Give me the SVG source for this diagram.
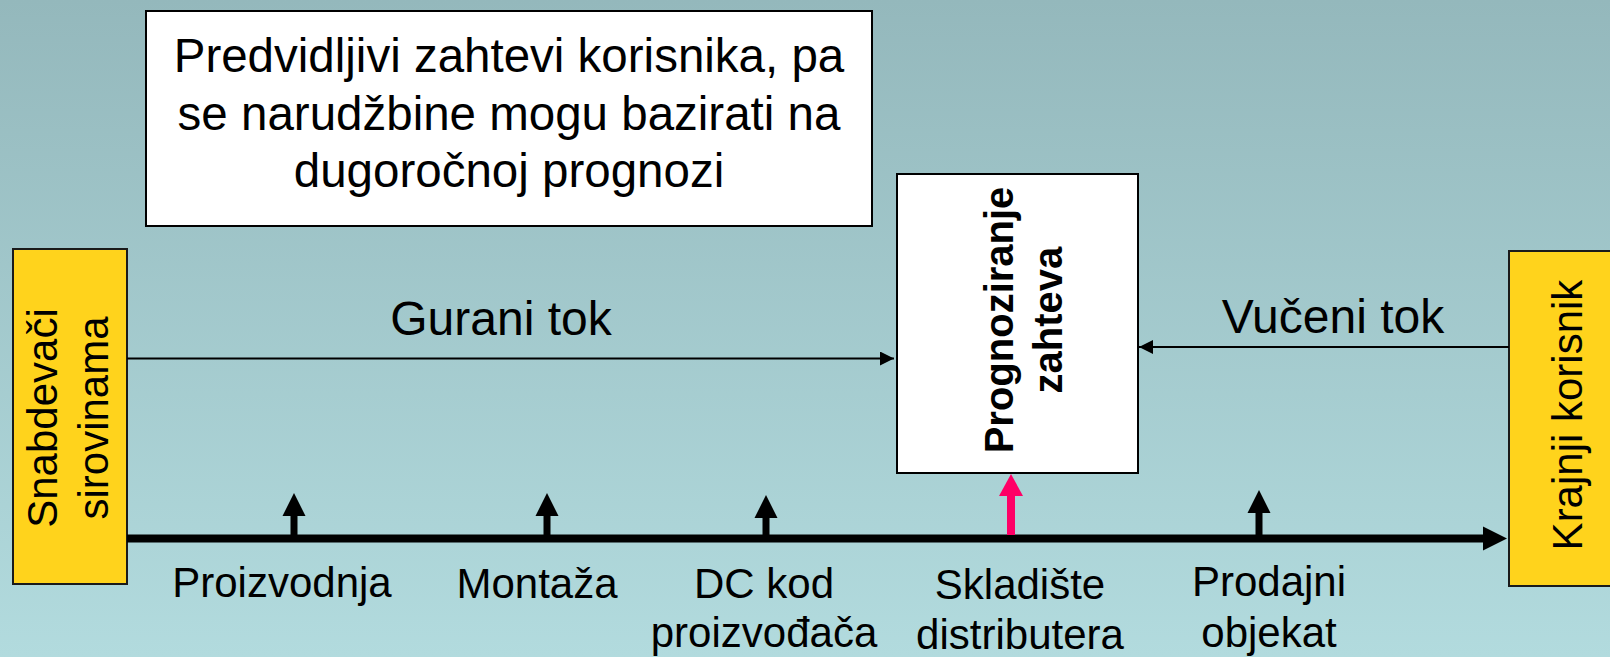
<svg xmlns="http://www.w3.org/2000/svg" width="1610" height="657" viewBox="0 0 1610 657">
  <defs>
    <linearGradient id="bg" x1="0" y1="0" x2="0" y2="1">
      <stop offset="0" stop-color="#94B8BC"/>
      <stop offset="1" stop-color="#B2DBDE"/>
    </linearGradient>
    <marker id="thin" viewBox="0 0 10 10" refX="10" refY="5" markerWidth="15" markerHeight="14" markerUnits="userSpaceOnUse" orient="auto">
      <path d="M0,0 L10,5 L0,10 Z" fill="#000"/>
    </marker>
  </defs>
  <style>
    text { font-family: "Liberation Sans", Arial, sans-serif; fill: #000; }
    .box { fill: #FFFFFF; stroke: #000; stroke-width: 2; }
    .ybox { fill: #FFD31C; stroke: #1a1a1a; stroke-width: 2; }
    .lbl { font-size: 42px; text-anchor: middle; }
    .flow { font-size: 48px; text-anchor: middle; }
    .note { font-size: 47.5px; text-anchor: middle; }
    .bold { font-size: 40px; font-weight: bold; text-anchor: middle; }
    .thin { stroke: #000; stroke-width: 2; fill: none; }
  </style>
  <rect x="0" y="0" width="1610" height="657" fill="url(#bg)"/>

  <g id="note">
    <rect class="box" x="146" y="11" width="726" height="215"/>
    <text class="note" x="509" y="72">Predvidljivi zahtevi korisnika, pa</text>
    <text class="note" x="509" y="130">se narudžbine mogu bazirati na</text>
    <text class="note" x="509" y="187">dugoročnoj prognozi</text>
  </g>

  <g id="snabdevaci">
    <rect class="ybox" x="13" y="249" width="114" height="335"/>
    <text class="lbl" transform="translate(57,418) rotate(-90)">Snabdevači</text>
    <text class="lbl" transform="translate(108,418) rotate(-90)">sirovinama</text>
  </g>

  <g id="krajnji">
    <rect class="ybox" x="1509" y="251" width="110" height="335"/>
    <text class="lbl" transform="translate(1582,415) rotate(-90)">Krajnji korisnik</text>
  </g>

  <g id="prognoziranje">
    <rect class="box" x="897" y="174" width="241" height="299"/>
    <text class="bold" transform="translate(1013,320) rotate(-90)">Prognoziranje</text>
    <text class="bold" transform="translate(1062,320) rotate(-90)">zahteva</text>
  </g>

  <g id="connectors">
    <line class="thin" x1="127" y1="358.5" x2="894" y2="358.5" marker-end="url(#thin)"/>
    <line class="thin" x1="1509" y1="347" x2="1139" y2="347" marker-end="url(#thin)"/>
    <text class="flow" x="501" y="335">Gurani tok</text>
    <text class="flow" x="1333" y="333">Vučeni tok</text>

    <line x1="127" y1="538.5" x2="1485" y2="538.5" stroke="#000" stroke-width="8"/>
    <polygon points="1483,526.5 1507,538.5 1483,550.5" fill="#000"/>

    <g fill="#000">
      <rect x="290.5" y="515" width="7" height="20"/>
      <polygon points="282.5,516 294,493 305.5,516"/>
      <rect x="543.5" y="515" width="7" height="20"/>
      <polygon points="535.5,516 547,493 558.5,516"/>
      <rect x="762.5" y="517" width="7" height="18"/>
      <polygon points="754.5,518 766,495 777.5,518"/>
      <rect x="1255.5" y="512" width="7" height="23"/>
      <polygon points="1247.5,513 1259,490 1270.5,513"/>
    </g>
    <g fill="#FF0066">
      <rect x="1007" y="494" width="8" height="41"/>
      <polygon points="999,496 1011,474 1023,496"/>
    </g>
  </g>

  <g id="labels">
    <text class="lbl" x="282" y="597">Proizvodnja</text>
    <text class="lbl" x="537" y="598">Montaža</text>
    <text class="lbl" x="764" y="598">DC kod</text>
    <text class="lbl" x="764" y="647">proizvođača</text>
    <text class="lbl" x="1020" y="599">Skladište</text>
    <text class="lbl" x="1020" y="649">distributera</text>
    <text class="lbl" x="1269" y="596">Prodajni</text>
    <text class="lbl" x="1269" y="647">objekat</text>
  </g>
</svg>
